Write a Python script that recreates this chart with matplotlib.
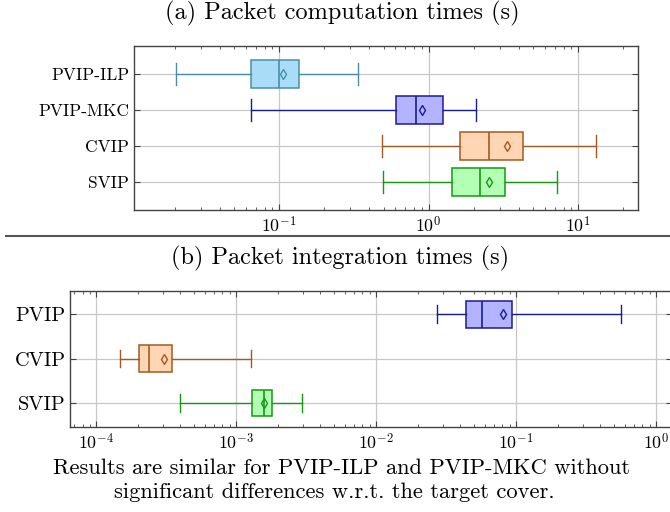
import matplotlib
matplotlib.use('Agg')
import matplotlib.pyplot as plt
from matplotlib.lines import Line2D
from matplotlib.ticker import NullFormatter

plt.rcParams['font.family'] = 'cmr10'
plt.rcParams['mathtext.fontset'] = 'cm'
plt.rcParams['axes.formatter.use_mathtext'] = True

# (a) packet computation times (s)
comp_labels = ['PVIP-ILP', 'PVIP-MKC', 'CVIP', 'SVIP']
comp_whislo = [0.0204, 0.0647, 0.49, 0.494]
comp_q1 = [0.0647, 0.606, 1.63, 1.43]
comp_med = [0.100, 0.83, 2.52, 2.20]
comp_mean = [0.106, 0.905, 3.34, 2.53]
comp_q3 = [0.137, 1.25, 4.28, 3.24]
comp_whishi = [0.336, 2.07, 13.1, 7.2]

# (b) packet integration times (s)
integ_labels = ['PVIP', 'CVIP', 'SVIP']
integ_whislo = [0.0272, 1.49e-4, 4.0e-4]
integ_q1 = [0.0438, 2.01e-4, 1.31e-3]
integ_med = [0.0575, 2.38e-4, 1.58e-3]
integ_mean = [0.0807, 3.08e-4, 1.59e-3]
integ_q3 = [0.0936, 3.48e-4, 1.82e-3]
integ_whishi = [0.561, 1.27e-3, 2.95e-3]

comp_fills = ['#a9dcf6', '#b3b3ff', '#ffd6b3', '#b3ffb3']
comp_edges = ['#4a8ea6', '#1c1c8f', '#a35a22', '#159915']
integ_fills = ['#b3b3ff', '#ffd6b3', '#b3ffb3']
integ_edges = ['#1c1c8f', '#a35a22', '#159915']


def draw(ax, labels, lo, q1, med, mean, q3, hi, fills, edges, width, capw):
    for i in range(len(labels)):
        s = dict(label=labels[i], whislo=lo[i], q1=q1[i], med=med[i],
                 mean=mean[i], q3=q3[i], whishi=hi[i])
        c = edges[i]
        ax.bxp([s], positions=[i + 1], orientation='horizontal',
               widths=[width], capwidths=[capw], patch_artist=True,
               showmeans=True, showfliers=False,
               boxprops=dict(facecolor=fills[i], edgecolor=c, lw=1.1),
               medianprops=dict(color=c, lw=1.2),
               whiskerprops=dict(color=c, lw=1.0),
               capprops=dict(color=c, lw=1.0),
               meanprops=dict(marker='d', markerfacecolor='none',
                              markeredgecolor=c, markersize=5,
                              markeredgewidth=1.0))
    ax.set_xscale('log')
    ax.set_yticks(range(1, len(labels) + 1))
    ax.set_yticklabels(labels)
    ax.xaxis.set_minor_formatter(NullFormatter())
    ax.set_axisbelow(True)
    ax.grid(True, which='major', color='#c8c8c8', lw=0.9)
    ax.tick_params(which='both', direction='in', top=True, right=True,
                   color='#444444')
    ax.tick_params(which='major', length=4)
    ax.tick_params(which='minor', length=2.5)
    for sp in ax.spines.values():
        sp.set_color('#444444')
        sp.set_linewidth(1.0)


fig = plt.figure(figsize=(6.7, 5.12), dpi=100)

ax1 = fig.add_axes([0.2, 0.590, 0.752, 0.320])
draw(ax1, comp_labels, comp_whislo, comp_q1, comp_med, comp_mean, comp_q3,
     comp_whishi, comp_fills, comp_edges, 0.8, 0.6)
ax1.set_xlim(10 ** -1.97, 10 ** 1.40)
ax1.set_ylim(4.78, 0.22)
ax1.tick_params(axis='y', labelsize=12.5)
ax1.tick_params(axis='x', labelsize=12.8)

ax2 = fig.add_axes([0.105, 0.1654, 0.898, 0.2668])
draw(ax2, integ_labels, integ_whislo, integ_q1, integ_med, integ_mean,
     integ_q3, integ_whishi, integ_fills, integ_edges, 0.6, 0.4)
ax2.set_xlim(10 ** -4.184, 10 ** 0.115)
ax2.set_ylim(3.55, 0.47)
ax2.tick_params(axis='y', labelsize=14.6)
ax2.tick_params(axis='x', labelsize=12.8)

fig.text(0.511, 0.973, '(a) Packet computation times (s)', ha='center',
         va='center', fontsize=17.5)
fig.text(0.507, 0.496, '(b) Packet integration times (s)', ha='center',
         va='center', fontsize=17.5)
fig.add_artist(Line2D([0.009, 1.0], [0.539, 0.539], color='#555555', lw=1.5))
fig.text(0.509, 0.086,
         'Results are similar for PVIP-ILP and PVIP-MKC without',
         ha='center', va='center', fontsize=16.2)
fig.text(0.499, 0.039,
         'significant differences w.r.t. the target cover.',
         ha='center', va='center', fontsize=16.2)

fig.savefig('out.png', dpi=100)
